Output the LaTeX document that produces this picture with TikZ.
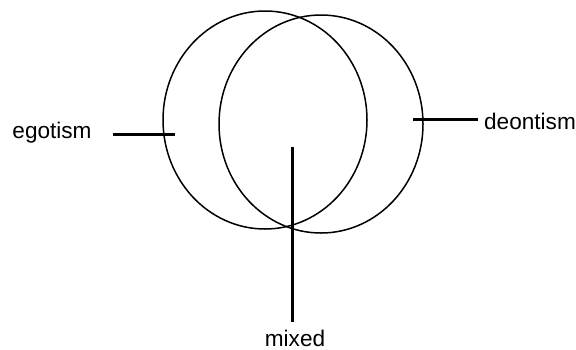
\documentclass[tikz,border=0pt]{standalone}
\usepackage{fontspec}
\setmainfont{Liberation Sans}
\usetikzlibrary{shapes.geometric}

\begin{document}
\begin{tikzpicture}[x=0.5pt,y=-0.5pt,
    ring/.style={draw,ellipse,line width=0.75pt,minimum width=102pt,minimum height=109pt,inner sep=0pt},
    lbl/.style={font=\fontsize{11.3}{13}\selectfont,inner sep=0pt},
    tick/.style={line width=1.5pt}]
  \useasboundingbox (0,0) rectangle (576,349);
  \node[ring] (egoring) at (265,120) {};
  \node[ring] (deoring) at (321,124) {};
  \node[lbl] (egotism) at (52,133) {egotism};
  \node[lbl] (deontism) at (530,121) {deontism};
  \node[lbl] (mixed) at (295,338) {mixed};
  \coordinate (egoa) at (113,134);
  \coordinate (egob) at (175,134);
  \coordinate (deoa) at (413,119);
  \coordinate (deob) at (478,119);
  \coordinate (mixa) at (292,147);
  \coordinate (mixb) at (292,322);
  \draw[tick] (egoa) -- (egob);
  \draw[tick] (deoa) -- (deob);
  \draw[tick] (mixa) -- (mixb);
\end{tikzpicture}
\end{document}
